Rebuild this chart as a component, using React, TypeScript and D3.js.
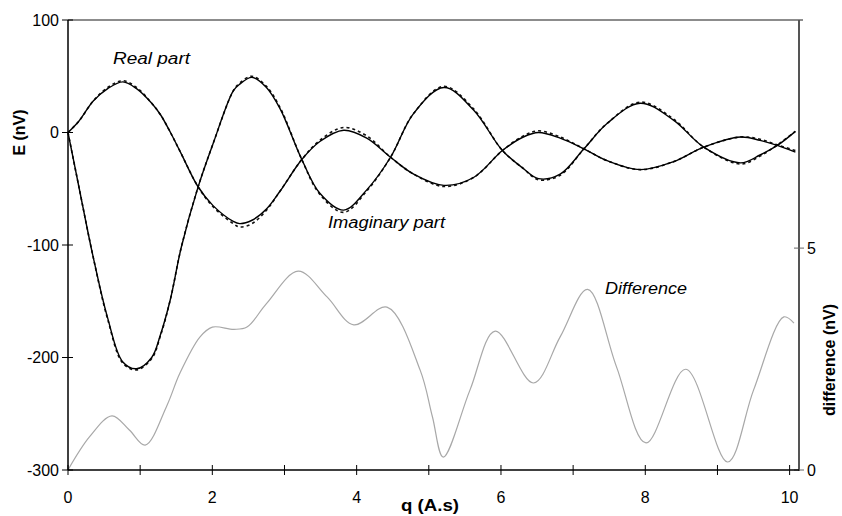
import * as d3 from "d3";

// q grid shared by the real / imaginary traces (A.s)
const qValues = [
  0, 0.15, 0.35, 0.55, 0.76, 0.95, 1.16, 1.28, 1.42, 1.57, 1.8, 2.01, 2.29,
  2.38, 2.55, 2.75, 2.94, 3.24, 3.49, 3.82, 4.14, 4.47, 4.79, 5.21, 5.62, 6.02,
  6.31, 6.52, 6.82, 7.15, 7.47, 7.93, 8.39, 8.81, 9.32, 9.59, 9.83, 10.08,
];

// measured (solid) and modelled (dashed) signals, nV
const realSolid = [
  0, 10, 28, 39, 45, 39, 26, 16, 0, -19, -48, -65, -79, -81, -78, -68, -52,
  -24, -8, 2, -5, -22, -37, -47, -40, -16, -4, 0, -5, -14.5, -25, -33, -26, -13,
  -4, -7, -11.5, -17.5,
];
const realDashed = [
  0, 10, 28, 40, 46, 40, 26, 16, 0, -19, -48, -66, -81, -84, -81, -69, -52,
  -24, -7, 4.5, -3, -22, -37, -48, -40, -16, -3, 1.5, -4, -14.5, -25, -33, -26,
  -13, -4, -6, -11, -16,
];
const imagSolid = [
  0, -48, -111, -165, -204, -210, -200, -180, -148, -102, -49, -10, 37, 43, 49,
  40, 21, -24, -54, -69, -51, -22, 17, 40, 20, -16, -32, -41, -37, -14.5, 8, 26,
  11, -13, -27, -20, -11.5, 1,
];
const imagDashed = [
  0, -48, -111, -166, -205, -211, -201, -181, -148, -102, -49, -10, 37, 44, 50,
  41, 22, -24, -55, -71, -52, -22, 17, 41, 21, -16, -32, -42, -38, -14.5, 8, 27,
  12, -13, -28, -21, -11, 1,
];

// difference between the two (right axis)
const diffQ = [
  0, 0.3, 0.61, 0.85, 1.07, 1.37, 1.55, 1.83, 2.0, 2.3, 2.48, 2.75, 3.19, 3.59,
  3.96, 4.42, 4.88, 5.05, 5.2, 5.57, 5.92, 6.45, 6.82, 7.2, 7.6, 8.01, 8.56,
  9.14, 9.5, 9.92, 10.06,
];
const diffValues = [
  0, 0.75, 1.22, 0.9, 0.56, 1.45, 2.18, 3.0, 3.22, 3.17, 3.22, 3.75, 4.48, 3.9,
  3.27, 3.67, 2.25, 1.2, 0.29, 1.8, 3.13, 1.96, 3.0, 4.07, 2.33, 0.61, 2.27,
  0.18, 1.8, 3.45, 3.31,
];

const xTicks = [0, 1, 2, 3, 4, 5, 6, 7, 8, 9, 10];
const xLabels = [0, 2, 4, 6, 8, 10];
const yTicks = [100, 0, -100, -200, -300];
const y2Ticks = [0, 5];

const W = 842;
const H = 516;
const FONT = "Liberation Sans, Arial, sans-serif";

type Pt = [number, number];

export default function App() {
  const x = d3.scaleLinear().domain([0, 10.13]).range([68, 799]);
  const y = d3.scaleLinear().domain([-300, 100]).range([470, 20]);
  const y2 = d3.scaleLinear().domain([0, 10.14]).range([470, 20]);

  const line = d3
    .line<Pt>()
    .x((d) => x(d[0]))
    .y((d) => y(d[1]))
    .curve(d3.curveCatmullRom.alpha(0.5));
  const line2 = d3
    .line<Pt>()
    .x((d) => x(d[0]))
    .y((d) => y2(d[1]))
    .curve(d3.curveCatmullRom.alpha(0.5));

  const zip = (vals: number[]): Pt[] => qValues.map((q, i) => [q, vals[i]]);
  const diffPts: Pt[] = diffQ.map((q, i) => [q, diffValues[i]]);

  const [x0, x1] = x.range();
  const [yb, yt] = y.range();

  // Excel stretched the labels horizontally, so fit them to measured widths
  const stretched = (
    label: string,
    left: number,
    width: number,
    cy: number,
    size: number,
    extra: Record<string, string | number>
  ) => (
    <text
      x={left}
      y={cy}
      dy="0.35em"
      fontSize={size}
      textLength={width}
      lengthAdjust="spacingAndGlyphs"
      {...extra}
    >
      {label}
    </text>
  );

  return (
    <svg
      width={W}
      height={H}
      style={{ position: "absolute", left: 0, top: 0, background: "#fff" }}
      fontFamily={FONT}
    >
      {/* difference trace, behind */}
      <path
        d={line2(diffPts) ?? ""}
        fill="none"
        stroke="#a8a8a8"
        strokeWidth={1.2}
      />

      {/* modelled (dashed) */}
      {[realDashed, imagDashed].map((vals, i) => (
        <path
          key={"d" + i}
          d={line(zip(vals)) ?? ""}
          fill="none"
          stroke="#111"
          strokeWidth={1.6}
          strokeDasharray="3,3"
        />
      ))}
      {/* measured (solid) */}
      {[realSolid, imagSolid].map((vals, i) => (
        <path
          key={"s" + i}
          d={line(zip(vals)) ?? ""}
          fill="none"
          stroke="#000"
          strokeWidth={1.4}
        />
      ))}

      {/* frame: top + right in grey */}
      <line x1={x0} x2={x1 + 4} y1={yt} y2={yt} stroke="#666" strokeWidth={1.5} />
      <line x1={x1} x2={x1} y1={yt} y2={yb + 1} stroke="#555" strokeWidth={2} />
      {y2Ticks.map((t) => (
        <g key={"r" + t}>
          <line x1={x1 - 5} x2={x1 + 5} y1={y2(t)} y2={y2(t)} stroke="#666" strokeWidth={1} />
          <text x={x1 + 8} y={y2(t)} dy="0.35em" fontSize={16} fill="#000">
            {t}
          </text>
        </g>
      ))}

      {/* left axis */}
      <line x1={x0} x2={x0} y1={yt} y2={yb} stroke="#000" strokeWidth={1.5} />
      {yTicks.map((t) => (
        <g key={"l" + t}>
          <line x1={x0 - 6} x2={x0 + 5} y1={y(t)} y2={y(t)} stroke="#000" strokeWidth={1} />
          <text
            x={x0 - 9}
            y={y(t)}
            dy="0.35em"
            fontSize={16}
            textAnchor="end"
            fill="#000"
          >
            {t}
          </text>
        </g>
      ))}

      {/* bottom axis */}
      <line x1={x0} x2={x1} y1={yb} y2={yb} stroke="#000" strokeWidth={1.5} />
      {xTicks.map((t) => (
        <line
          key={"b" + t}
          x1={x(t)}
          x2={x(t)}
          y1={yb - 5}
          y2={yb + 5}
          stroke="#000"
          strokeWidth={1}
        />
      ))}
      {xLabels.map((t) => (
        <text
          key={"bl" + t}
          x={x(t)}
          y={yb + 27}
          dy="0.35em"
          fontSize={16}
          textAnchor="middle"
          fill="#000"
        >
          {t}
        </text>
      ))}

      {/* axis titles */}
      {stretched("q (A.s)", 401, 58, 505, 16, { fontWeight: "bold" })}
      <text
        transform={`translate(19,${y(0)}) rotate(-90)`}
        dy="0.35em"
        fontSize={16}
        fontWeight="bold"
        textAnchor="middle"
      >
        E (nV)
      </text>
      <text
        transform={`translate(829,360) rotate(-90)`}
        dy="0.35em"
        fontSize={16}
        fontWeight="bold"
        textAnchor="middle"
      >
        difference (nV)
      </text>

      {/* annotations */}
      {stretched("Real part", 113, 77, 58, 16, { fontStyle: "italic" })}
      {stretched("Imaginary part", 328, 117, 222, 16, { fontStyle: "italic" })}
      {stretched("Difference", 605, 82, 288, 16, { fontStyle: "italic" })}
    </svg>
  );
}
